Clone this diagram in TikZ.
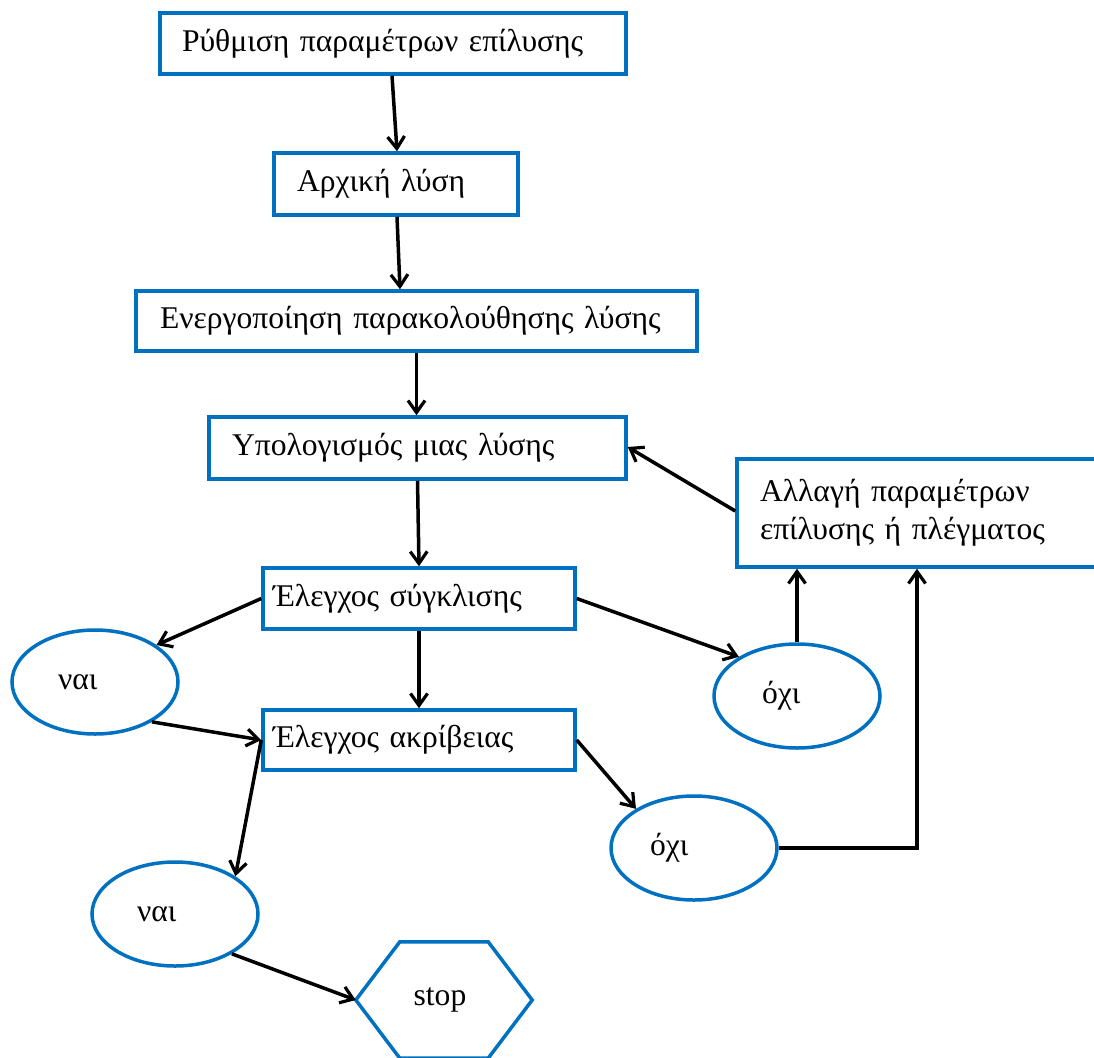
\documentclass[tikz,border=0pt]{standalone}
\usepackage{fontspec}
\setmainfont{Liberation Serif}
\usetikzlibrary{arrows.meta,shapes.geometric,calc}
\definecolor{boxblue}{RGB}{0,112,192}
\tikzset{
  stepbox/.style={draw=boxblue, line width=3.5pt, rectangle, align=left, inner ysep=0pt, font=\fontsize{31.6}{38.4}\selectfont},
  ell/.style={draw=boxblue, line width=3.5pt, ellipse, align=left, inner sep=0pt, minimum width=166pt, minimum height=104pt, font=\fontsize{31.6}{38.4}\selectfont},
  conn/.style={line width=3.5pt, -{Straight Barb[length=12pt,width=17pt,line width=3.2pt]}},
  plain/.style={line width=3.5pt}
}
\begin{document}
\begin{tikzpicture}[x=1pt,y=-1pt]
\path[use as bounding box, clip] (0,0) rectangle (1094,1057);
\node[stepbox, inner xsep=22pt, text width=422pt, minimum height=61pt] (b1) at (393,43.5) {Ρύθμιση παραμέτρων επίλυσης};
\node[stepbox, inner xsep=23pt, text width=198pt, minimum height=62pt] (b2) at (396,184) {Αρχική λύση};
\node[stepbox, inner xsep=24pt, text width=513pt, minimum height=60pt] (b3) at (416.5,321) {Ενεργοποίηση παρακολούθησης λύσης};
\node[stepbox, inner xsep=23pt, text width=371pt, minimum height=62pt] (b4) at (417.5,448) {Υπολογισμός μιας λύσης};
\node[stepbox, inner xsep=23pt, text width=327pt, minimum height=108pt] (b5) at (923.5,513) {Αλλαγή παραμέτρων\\επίλυσης ή πλέγματος};
\node[stepbox, inner xsep=10pt, text width=292pt, minimum height=61pt] (b6) at (419,598.5) {Έλεγχος σύγκλισης};
\node[stepbox, inner xsep=10pt, text width=292pt, minimum height=60pt] (b7) at (419,740) {Έλεγχος ακρίβειας};
\node[ell, text width=74pt] (n1) at (95,682) {ναι};
\node[ell, text width=70pt] (o1) at (797,696) {όχι};
\node[ell, text width=88pt] (o2) at (694,848) {όχι};
\node[ell, text width=76pt] (n2) at (175,914) {ναι};
\node[minimum width=176pt, minimum height=116pt, inner sep=0pt, font=\fontsize{31.6}{38.4}\selectfont] (stop) at (444,1000) {\hspace*{-8pt}stop};
\draw[draw=boxblue, line width=3.5pt, line join=miter]
  (stop.west) -- ([xshift=44pt]stop.north west) -- ([xshift=-44pt]stop.north east) -- (stop.east)
  -- ([xshift=-44pt]stop.south east) -- ([xshift=44pt]stop.south west) -- cycle;
\draw[conn] ([xshift=-1pt]b1.south) -- ([xshift=1pt]b2.north);
\draw[conn] ([xshift=1pt]b2.south) -- ([xshift=-16.5pt]b3.north);
\draw[conn] (b3.south) -- ([xshift=-1pt]b4.north);
\draw[conn] (b4.south) -- (b6.north);
\draw[conn] ([yshift=2pt]b5.west) -- ([yshift=1pt]b4.east);
\draw[conn] (b6.west) -- (n1.31);
\draw[conn] (b6.east) -- (o1.146);
\draw[conn] (b6.south) -- (b7.north);
\draw[conn] (o1.north) -- (o1.north |- b5.south);
\draw[conn] (n1.-35) -- (b7.west);
\draw[conn] (b7.west) -- (n2.32);
\draw[conn] (b7.east) -- (o2.146);
\draw[conn] (o2.east) -| ([xshift=-6.5pt]b5.south);
\draw[conn] (n2.-35) -- (stop.west);
\end{tikzpicture}
\end{document}
